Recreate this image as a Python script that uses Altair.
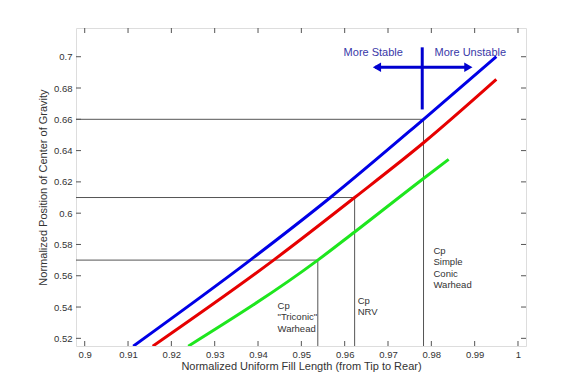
import altair as alt
import pandas as pd

# ---- data ----
blue_x = [0.9112, 0.9382, 0.9567, 0.9782, 0.9950]
blue_y = [0.515, 0.570, 0.610, 0.660, 0.700]
red_x = [0.9157, 0.9436, 0.9623, 0.9782, 0.9950]
red_y = [0.515, 0.570, 0.610, 0.645, 0.6855]
green_x = [0.9239, 0.9538, 0.9623, 0.9782, 0.9840]
green_y = [0.515, 0.570, 0.588, 0.6222, 0.6344]

ref_x = [0.9782, 0.9623, 0.9538]
ref_y = [0.66, 0.61, 0.57]

ann_text = ["Cp", "\"Triconic\"", "Warhead", "Cp", "NRV",
            "Cp", "Simple", "Conic", "Warhead"]
ann_x = [0.9445, 0.9445, 0.9445, 0.9630, 0.9630,
         0.9805, 0.9805, 0.9805, 0.9805]
ann_y = [0.5407, 0.5337, 0.5262, 0.5439, 0.5371,
         0.5757, 0.5685, 0.5613, 0.5541]

stab_text = ["More Stable", "More Unstable"]
stab_x = [0.9666, 0.9890]
stab_y = [0.7022, 0.7022]

cross_x = [0.9779]
cross_y1 = [0.7060]
cross_y2 = [0.6663]
arrow_x1 = [0.9670]
arrow_x2 = [0.9885]
arrow_y = [0.6932]
head_x = [0.96745, 0.98855]
head_shape = ["triangle-left", "triangle-right"]

x_ticks = [0.9, 0.91, 0.92, 0.93, 0.94, 0.95, 0.96, 0.97, 0.98, 0.99, 1.0]
y_ticks = [0.52, 0.54, 0.56, 0.58, 0.6, 0.62, 0.64, 0.66, 0.68, 0.7]

W, H = 450, 318
FONT = "Liberation Sans"

xs = alt.Scale(domain=[0.89799, 1.00185], nice=False, zero=False)
ys = alt.Scale(domain=[0.5151, 0.71836], nice=False, zero=False)

x_axis = alt.Axis(values=x_ticks, labelExpr="format(datum.value, '.2~f')",
                  tickSize=0, domain=False, grid=False, labelPadding=3,
                  labelOverlap=False,
                  labelFontSize=9.5, labelColor="#333", labelFont=FONT,
                  title="Normalized Uniform Fill Length (from Tip to Rear)",
                  titleFontSize=11, titleFontWeight="normal", titleColor="#333",
                  titleFont=FONT, titlePadding=2)
y_axis = alt.Axis(values=y_ticks, labelExpr="format(datum.value, '.2~f')",
                  tickSize=0, domain=False, grid=False, labelPadding=4,
                  labelOverlap=False,
                  labelFontSize=9.5, labelColor="#333", labelFont=FONT,
                  title="Normalized Position of Center of Gravity",
                  titleFontSize=11, titleFontWeight="normal", titleColor="#333",
                  titleFont=FONT, titlePadding=5)


def X(f):
    return alt.X(f, scale=xs, axis=x_axis)


def Y(f):
    return alt.Y(f, scale=ys, axis=y_axis)


series = pd.DataFrame(
    {"x": blue_x + red_x + green_x,
     "y": blue_y + red_y + green_y,
     "s": ["blue"] * len(blue_x) + ["red"] * len(red_x) + ["green"] * len(green_x)}
)

lines = alt.Chart(series).mark_line(strokeWidth=3, interpolate="monotone", clip=True).encode(
    x=X("x:Q"), y=Y("y:Q"),
    color=alt.Color("s:N", scale=alt.Scale(domain=["blue", "red", "green"],
                                          range=["#0000e6", "#e60000", "#1ee61e"]),
                    legend=None),
    detail="s:N",
)

ref_df = pd.DataFrame({"rx": ref_x, "ry": ref_y})
href = alt.Chart(ref_df).mark_rule(color="#555", strokeWidth=1).encode(
    x=X("rx:Q"), x2=alt.value(0), y=Y("ry:Q"))
vref = alt.Chart(ref_df).mark_rule(color="#555", strokeWidth=1).encode(
    x=X("rx:Q"), y=Y("ry:Q"), y2=alt.value(H))

ann = alt.Chart(pd.DataFrame({"t": ann_text, "x": ann_x, "y": ann_y})).mark_text(
    align="left", baseline="middle", fontSize=9.5, font=FONT, color="#333"
).encode(x=X("x:Q"), y=Y("y:Q"), text="t:N")

stab = alt.Chart(pd.DataFrame({"t": stab_text, "x": stab_x, "y": stab_y})).mark_text(
    align="center", baseline="middle", fontSize=11, font=FONT, color="#3838a8"
).encode(x=X("x:Q"), y=Y("y:Q"), text="t:N")

cross = alt.Chart(pd.DataFrame({"x": cross_x, "y1": cross_y1, "y2": cross_y2})).mark_rule(
    color="#0000d0", strokeWidth=3).encode(
    x=X("x:Q"), y=Y("y1:Q"), y2="y2:Q")
arrow = alt.Chart(pd.DataFrame({"x1": arrow_x1, "x2": arrow_x2, "y": arrow_y})).mark_rule(
    color="#0000d0", strokeWidth=3).encode(
    x=X("x1:Q"), x2="x2:Q", y=Y("y:Q"))
heads = alt.Chart(pd.DataFrame({"x": head_x, "y": arrow_y * 2, "sh": head_shape})).mark_point(
    filled=True, size=90, color="#0000d0", opacity=1).encode(
    x=X("x:Q"), y=Y("y:Q"),
    shape=alt.Shape("sh:N", scale=None, legend=None))

xt = pd.DataFrame({"v": x_ticks})
yt = pd.DataFrame({"v": y_ticks})
tick_style = dict(color="#555", strokeWidth=1)
xt_bot = alt.Chart(xt).mark_rule(**tick_style).encode(
    x=X("v:Q"), y=alt.value(H), y2=alt.value(H - 5))
xt_top = alt.Chart(xt).mark_rule(**tick_style).encode(
    x=X("v:Q"), y=alt.value(0), y2=alt.value(5))
yt_left = alt.Chart(yt).mark_rule(**tick_style).encode(
    y=Y("v:Q"), x=alt.value(0), x2=alt.value(5))
yt_right = alt.Chart(yt).mark_rule(**tick_style).encode(
    y=Y("v:Q"), x=alt.value(W), x2=alt.value(W - 5))

chart = alt.layer(
    href, vref, lines, ann, cross, arrow, heads, stab,
    xt_bot, xt_top, yt_left, yt_right
).properties(
    width=W, height=H,
    autosize=alt.AutoSizeParams(type="none"),
    padding={"left": 68, "top": 20, "right": 46, "bottom": 35},
).configure_view(stroke="#555", strokeWidth=1.2).configure(background="white")

chart.save("out.html", embed_options={"renderer": "svg", "actions": False})
